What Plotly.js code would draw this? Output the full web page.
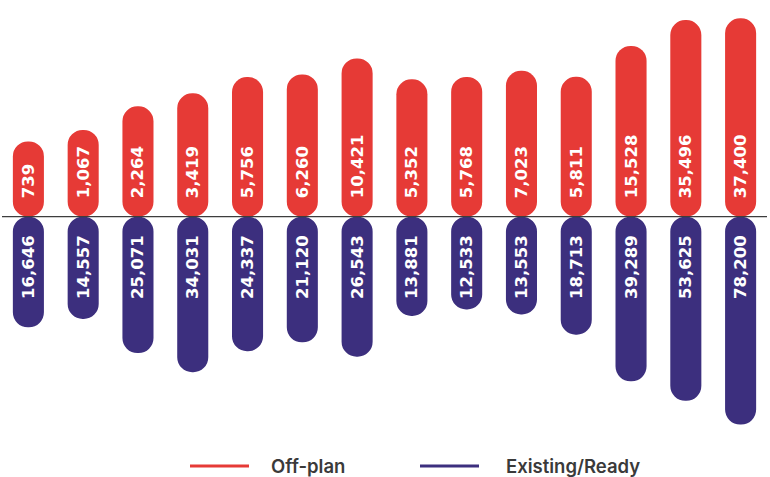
<!DOCTYPE html>
<html>
<head>
<meta charset="utf-8">
<script src="https://cdn.plot.ly/plotly-3.0.1.min.js"></script>
<style>
  html, body { margin: 0; padding: 0; background: #ffffff; }
  #chart { width: 770px; height: 477px; }
</style>
</head>
<body>
<div id="chart"></div>
<script>
// ---- data ----
const periods = ['P1','P2','P3','P4','P5','P6','P7','P8','P9','P10','P11','P12','P13','P14'];
const offPlan = [739, 1067, 2264, 3419, 5756, 6260, 10421, 5352, 5768, 7023, 5811, 15528, 35496, 37400];
const existing = [16646, 14557, 25071, 34031, 24337, 21120, 26543, 13881, 12533, 13553, 18713, 39289, 53625, 78200];
const seriesNames = ['Off-plan', 'Existing/Ready'];

// ---- styling ----
const RED = '#e63a36';
const NAVY = '#3c2f7e';
const W = 770, H = 477;
const M = { l: 1, r: 2, t: 0, b: 37 };
const plotH = H - M.t - M.b;          // 440
const baselinePx = 216.7;             // from top of plot area
const split = (plotH - baselinePx) / plotH;

// log ranges (log10 units)
const topRange = [1.826, 4.827];
const botRange = [5.000, 3.457];      // reversed: grows downward
const topBase = Math.pow(10, topRange[0]);
const botBase = Math.pow(10, botRange[1]);

const fmt = v => v.toLocaleString('en-US');
const NB = '\u00a0';
const LABEL_FONT = { color: '#ffffff', size: 16.5, family: 'DejaVu Sans', weight: 700 };

const traces = [
  {
    type: 'bar', name: seriesNames[0],
    x: periods,
    y: offPlan.map(v => v - topBase),
    base: topBase,
    yaxis: 'y',
    marker: { color: RED, cornerradius: 16 },
    text: offPlan.map(v => NB + NB + fmt(v)),
    textposition: 'inside', insidetextanchor: 'start', textangle: -90,
    textfont: LABEL_FONT,
    constraintext: 'none',
    hoverinfo: 'skip', showlegend: false
  },
  {
    type: 'bar', name: seriesNames[1],
    x: periods,
    y: existing.map(v => v - botBase),
    base: botBase,
    yaxis: 'y2',
    marker: { color: NAVY, cornerradius: 16 },
    text: existing.map(v => fmt(v) + NB + NB),
    textposition: 'inside', insidetextanchor: 'start', textangle: -90,
    textfont: LABEL_FONT,
    constraintext: 'none',
    hoverinfo: 'skip', showlegend: false
  }
];

const px2x = px => (px - M.l) / (W - M.l - M.r);
const py2y = py => (plotH - py) / plotH;
const legY = py2y(466);

const layout = {
  width: W, height: H,
  margin: M,
  paper_bgcolor: '#ffffff', plot_bgcolor: '#ffffff',
  barmode: 'overlay', bargap: 0.433,
  showlegend: false,
  uniformtext: { mode: 'show', minsize: 16.5 },
  xaxis: { visible: false, showgrid: false, zeroline: false },
  yaxis: { type: 'log', range: topRange, domain: [split, 1], visible: false, fixedrange: true },
  yaxis2: { type: 'log', range: botRange, domain: [0, split], visible: false, fixedrange: true },
  shapes: [
    { type: 'line', xref: 'paper', yref: 'paper', x0: px2x(2), x1: px2x(767), y0: split, y1: split,
      line: { color: '#3d3d3d', width: 1.3 }, layer: 'above' },
    { type: 'line', xref: 'paper', yref: 'paper', x0: px2x(190), x1: px2x(249), y0: legY, y1: legY,
      line: { color: RED, width: 3.2 } },
    { type: 'line', xref: 'paper', yref: 'paper', x0: px2x(420), x1: px2x(479), y0: legY, y1: legY,
      line: { color: NAVY, width: 3.2 } }
  ],
  annotations: [
    { xref: 'paper', yref: 'paper', x: px2x(269), y: legY, xanchor: 'left', yanchor: 'middle',
      text: seriesNames[0], showarrow: false,
      font: { family: 'Inter', size: 18.5, weight: 600, color: '#3a3a3a' } },
    { xref: 'paper', yref: 'paper', x: px2x(504), y: legY, xanchor: 'left', yanchor: 'middle',
      text: seriesNames[1], showarrow: false,
      font: { family: 'Inter', size: 18.5, weight: 600, color: '#3a3a3a' } }
  ]
};

Plotly.newPlot('chart', traces, layout, { staticPlot: true, displayModeBar: false });
</script>
</body>
</html>
